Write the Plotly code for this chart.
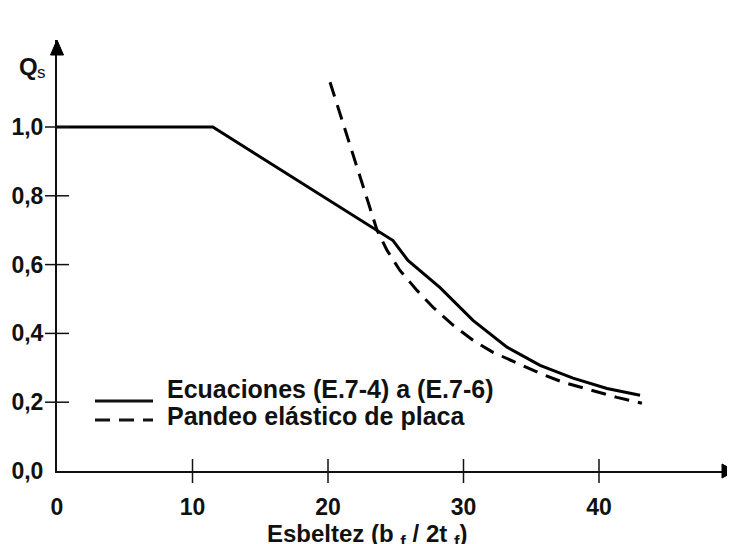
import plotly.graph_objects as go

# ---- data ----
solid_x = [0, 11.5, 24.80, 25.90, 28.27, 30.70, 33.21, 35.65, 38.08, 40.59, 43.03]
solid_q = [1.0, 1.0, 0.670, 0.612, 0.533, 0.438, 0.360, 0.307, 0.270, 0.240, 0.220]

dash_x = [20.15, 21.83, 22.93, 23.62, 24.35, 25.31, 26.57, 27.75, 29.23, 30.70,
          32.18, 33.95, 35.65, 37.34, 39.34, 41.33, 43.17]
dash_q = [1.130, 0.921, 0.779, 0.700, 0.642, 0.583, 0.525, 0.476, 0.424, 0.380,
          0.345, 0.313, 0.284, 0.258, 0.235, 0.214, 0.197]

x_ticks = [0, 10, 20, 30, 40]
x_ticktext = ["0", "10", "20", "30", "40"]
y_ticks = [0.0, 0.2, 0.4, 0.6, 0.8, 1.0]
y_ticktext = ["0,0", "0,2", "0,4", "0,6", "0,8", "1,0"]

series_names = ["Ecuaciones (E.7-4) a (E.7-6)", "Pandeo elástico de placa"]
series_dash = ["solid", "15px,9px"]

# ---- layout geometry (page has an 8px body margin) ----
OFF = 8
W, H = 735 - OFF, 544 - OFF
ML, MR, MT, MB = 57 - OFF, 0, 40 - OFF, 73
PW = W - ML - MR
PH = H - MT - MB
X_MAX = PW / 13.55
Y_MAX = PH / 344.0

FONT = "Liberation Sans, Arial, sans-serif"
INK = "#111111"

fig = go.Figure()
for xs, ys, name, dash in [(solid_x, solid_q, series_names[0], series_dash[0]),
                           (dash_x, dash_q, series_names[1], series_dash[1])]:
    fig.add_trace(go.Scatter(x=xs, y=ys, mode="lines", name=name, showlegend=False,
                             line=dict(color="black", width=3, dash=dash)))

def px_x(p):
    """reference screen pixel -> paper x"""
    return (p - OFF - ML) / PW

def px_y(p):
    return (H - MB - (p - OFF)) / PH

def seg(x0, y0, x1, y1, width=1.5, dash="solid"):
    return dict(type="path", xref="paper", yref="paper",
                path=f"M {x0} {y0} L {x1} {y1}",
                line=dict(color=INK, width=width, dash=dash))

shapes = []
half = 12
# tick marks crossing the axes (paper coords computed from the axis ranges)
for v in x_ticks[1:]:
    xp = v / X_MAX
    shapes.append(seg(xp, -half / PH, xp, half / PH))
for v in y_ticks[1:]:
    yp = v / Y_MAX
    shapes.append(seg(-half / PW, yp, half / PW, yp))
# arrow heads
shapes.append(dict(type="path", xref="paper", yref="paper",
                   path=f"M {px_x(735)} 0 L {px_x(722)} {7/PH} L {px_x(722)} {-7/PH} Z",
                   fillcolor="black", line=dict(color="black", width=1)))
shapes.append(dict(type="path", xref="paper", yref="paper",
                   path=f"M 0 {px_y(40)} L {-6.5/PW} {px_y(55)} L {6.5/PW} {px_y(55)} Z",
                   fillcolor="black", line=dict(color="black", width=1)))
# legend samples
legend_rows = [(401, 389), (420, 416)]  # (sample y, text y) in reference pixels
for i, (ys, yt) in enumerate(legend_rows):
    shapes.append(seg(px_x(95), px_y(ys), px_x(153), px_y(ys), width=3, dash=series_dash[i]))

annotations = [
    dict(text="<b>Q</b>", xref="paper", yref="paper",
         x=px_x(17), y=px_y(66), xanchor="left", yanchor="middle", showarrow=False,
         font=dict(family=FONT, size=24, color=INK)),
    dict(text="s", xref="paper", yref="paper",
         x=px_x(35), y=px_y(73), xanchor="left", yanchor="middle", showarrow=False,
         font=dict(family=FONT, size=17, color=INK)),
    dict(text="<b>Esbeltez (b <sub>f</sub> / 2t <sub>f</sub>)</b>", xref="paper", yref="paper",
         x=px_x(367), y=px_y(535), xanchor="center", yanchor="middle", showarrow=False,
         font=dict(family=FONT, size=24, color=INK)),
]
for i, (ys, yt) in enumerate(legend_rows):
    annotations.append(dict(text=series_names[i], xref="paper", yref="paper",
                            x=px_x(165), y=px_y(yt), xanchor="left", yanchor="middle",
                            showarrow=False,
                            font=dict(family=FONT, size=25, color=INK, weight="bold")))

fig.update_layout(
    width=W, height=H,
    margin=dict(l=ML, r=MR, t=MT, b=MB, autoexpand=False),
    paper_bgcolor="white", plot_bgcolor="white",
    showlegend=False,
    shapes=shapes,
    annotations=annotations,
    font=dict(family=FONT, color=INK),
)
fig.update_xaxes(range=[0, X_MAX], showgrid=False, zeroline=False,
                 showline=True, linecolor=INK, linewidth=2,
                 tickvals=x_ticks, ticktext=x_ticktext, ticks="",
                 ticklabelstandoff=14,
                 tickfont=dict(family=FONT, size=23, color=INK, weight="bold"),
                 automargin=False)
fig.update_yaxes(range=[0, Y_MAX], showgrid=False, zeroline=False,
                 showline=True, linecolor=INK, linewidth=2,
                 tickvals=y_ticks, ticktext=y_ticktext, ticks="",
                 ticklabelstandoff=7,
                 tickfont=dict(family=FONT, size=23, color=INK, weight="bold"),
                 automargin=False)

fig.write_html("out.html")
